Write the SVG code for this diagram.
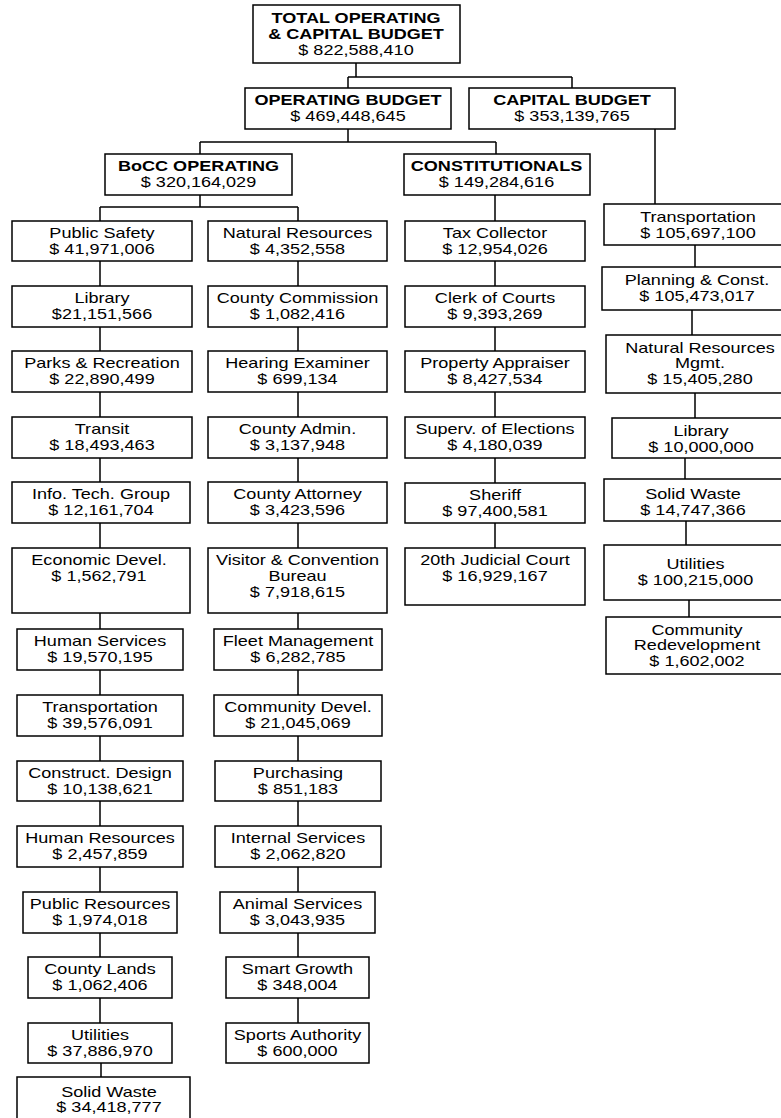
<svg xmlns="http://www.w3.org/2000/svg" width="781" height="1118" viewBox="0 0 781 1118">
<style>
rect{fill:#fff;stroke:#000;stroke-width:1.5}
text{font-family:"Liberation Sans",Arial,sans-serif;font-size:14px;fill:#000;text-anchor:middle}
.b{font-weight:bold}
#connectors path{fill:none;stroke:#000;stroke-width:1.5}
</style>
<g id="connectors">
<path d="M356 63V77M348 77H572M348 77V88M572 77V88"/>
<path d="M348 129V142M200 142H496M200 142V154M496 142V154"/>
<path d="M200 195V207M100 207H298M100 207V221M298 207V221"/>
<path d="M100 261V286M100 327V351M100 392V417M100 458V482M100 523V548M100 613V629M100 670V695M100 736V761M100 801V826M100 867V892M100 933V957M100 998V1023M101 1063V1077"/>
<path d="M298 261V286M298 327V351M298 392V417M298 458V482M298 523V548M298 613V629M298 670V695M298 736V761M298 801V826M298 867V892M298 933V957M298 998V1023"/>
<path d="M495 195V221M495 261V286M495 327V351M495 392V417M495 458V483M495 523V548"/>
<path d="M655 129V204M695 245V267M692 310V335M695 393V418M685 458V479M686 521V545M689 600V617"/>
</g>
<g id="total"><rect x="253" y="5" width="207" height="58"/><text transform="translate(356 23) scale(1.29 1)"><tspan x="0" class="b">TOTAL OPERATING</tspan><tspan x="0" dy="16" class="b">&amp; CAPITAL BUDGET</tspan><tspan x="0" dy="16">$ 822,588,410</tspan></text></g>
<g id="operating"><rect x="245" y="88" width="206" height="41"/><text transform="translate(348 105) scale(1.29 1)"><tspan x="0" class="b">OPERATING BUDGET</tspan><tspan x="0" dy="16">$ 469,448,645</tspan></text></g>
<g id="capital"><rect x="469" y="88" width="206" height="41"/><text transform="translate(572 105) scale(1.29 1)"><tspan x="0" class="b">CAPITAL BUDGET</tspan><tspan x="0" dy="16">$ 353,139,765</tspan></text></g>
<g id="bocc"><rect x="105" y="154" width="187" height="41"/><text transform="translate(198.5 171) scale(1.29 1)"><tspan x="0" class="b">BoCC OPERATING</tspan><tspan x="0" dy="16">$ 320,164,029</tspan></text></g>
<g id="constitutionals"><rect x="404" y="154" width="186" height="41"/><text transform="translate(496.5 171) scale(1.29 1)"><tspan x="0" class="b">CONSTITUTIONALS</tspan><tspan x="0" dy="16">$ 149,284,616</tspan></text></g>

<g id="public-safety"><rect x="12" y="221" width="180" height="40"/><text transform="translate(102 238) scale(1.29 1)"><tspan x="0">Public Safety</tspan><tspan x="0" dy="16">$ 41,971,006</tspan></text></g>
<g id="library"><rect x="12" y="286" width="180" height="41"/><text transform="translate(102 303) scale(1.29 1)"><tspan x="0">Library</tspan><tspan x="0" dy="16">$21,151,566</tspan></text></g>
<g id="parks"><rect x="12" y="351" width="180" height="41"/><text transform="translate(102 368) scale(1.29 1)"><tspan x="0">Parks &amp; Recreation</tspan><tspan x="0" dy="16">$ 22,890,499</tspan></text></g>
<g id="transit"><rect x="12" y="417" width="180" height="41"/><text transform="translate(102 434) scale(1.29 1)"><tspan x="0">Transit</tspan><tspan x="0" dy="16">$ 18,493,463</tspan></text></g>
<g id="info-tech"><rect x="12" y="482" width="178" height="41"/><text transform="translate(101 499) scale(1.29 1)"><tspan x="0">Info. Tech. Group</tspan><tspan x="0" dy="16">$ 12,161,704</tspan></text></g>
<g id="economic"><rect x="12" y="548" width="178" height="65"/><text transform="translate(99 565) scale(1.29 1)"><tspan x="0">Economic Devel.</tspan><tspan x="0" dy="16">$ 1,562,791</tspan></text></g>
<g id="human-services"><rect x="17" y="629" width="166" height="41"/><text transform="translate(100 646) scale(1.29 1)"><tspan x="0">Human Services</tspan><tspan x="0" dy="16">$ 19,570,195</tspan></text></g>
<g id="transportation"><rect x="17" y="695" width="166" height="41"/><text transform="translate(100 712) scale(1.29 1)"><tspan x="0">Transportation</tspan><tspan x="0" dy="16">$ 39,576,091</tspan></text></g>
<g id="construct"><rect x="17" y="761" width="166" height="40"/><text transform="translate(100 778) scale(1.29 1)"><tspan x="0">Construct. Design</tspan><tspan x="0" dy="16">$ 10,138,621</tspan></text></g>
<g id="human-resources"><rect x="17" y="826" width="166" height="41"/><text transform="translate(100 843) scale(1.29 1)"><tspan x="0">Human Resources</tspan><tspan x="0" dy="16">$ 2,457,859</tspan></text></g>
<g id="public-resources"><rect x="23" y="892" width="154" height="41"/><text transform="translate(100 909) scale(1.29 1)"><tspan x="0">Public Resources</tspan><tspan x="0" dy="16">$ 1,974,018</tspan></text></g>
<g id="county-lands"><rect x="28" y="957" width="144" height="41"/><text transform="translate(100 974) scale(1.29 1)"><tspan x="0">County Lands</tspan><tspan x="0" dy="16">$ 1,062,406</tspan></text></g>
<g id="utilities"><rect x="28" y="1023" width="144" height="40"/><text transform="translate(100 1040) scale(1.29 1)"><tspan x="0">Utilities</tspan><tspan x="0" dy="16">$ 37,886,970</tspan></text></g>
<g id="solid-waste"><rect x="17" y="1077" width="173" height="50"/><text transform="translate(109 1097) scale(1.29 1)"><tspan x="0">Solid Waste</tspan><tspan x="0" dy="15">$ 34,418,777</tspan></text></g>

<g id="natural-resources"><rect x="208" y="221" width="179" height="40"/><text transform="translate(297.5 238) scale(1.29 1)"><tspan x="0">Natural Resources</tspan><tspan x="0" dy="16">$ 4,352,558</tspan></text></g>
<g id="county-commission"><rect x="208" y="286" width="179" height="41"/><text transform="translate(297.5 303) scale(1.29 1)"><tspan x="0">County Commission</tspan><tspan x="0" dy="16">$ 1,082,416</tspan></text></g>
<g id="hearing-examiner"><rect x="208" y="351" width="179" height="41"/><text transform="translate(297.5 368) scale(1.29 1)"><tspan x="0">Hearing Examiner</tspan><tspan x="0" dy="16">$ 699,134</tspan></text></g>
<g id="county-admin"><rect x="208" y="417" width="179" height="41"/><text transform="translate(297.5 434) scale(1.29 1)"><tspan x="0">County Admin.</tspan><tspan x="0" dy="16">$ 3,137,948</tspan></text></g>
<g id="county-attorney"><rect x="208" y="482" width="179" height="41"/><text transform="translate(297.5 499) scale(1.29 1)"><tspan x="0">County Attorney</tspan><tspan x="0" dy="16">$ 3,423,596</tspan></text></g>
<g id="visitor"><rect x="208" y="548" width="179" height="65"/><text transform="translate(297.5 565) scale(1.29 1)"><tspan x="0">Visitor &amp; Convention</tspan><tspan x="0" dy="16">Bureau</tspan><tspan x="0" dy="16">$ 7,918,615</tspan></text></g>
<g id="fleet"><rect x="214" y="629" width="168" height="41"/><text transform="translate(298 646) scale(1.29 1)"><tspan x="0">Fleet Management</tspan><tspan x="0" dy="16">$ 6,282,785</tspan></text></g>
<g id="community-devel"><rect x="214" y="695" width="168" height="41"/><text transform="translate(298 712) scale(1.29 1)"><tspan x="0">Community Devel.</tspan><tspan x="0" dy="16">$ 21,045,069</tspan></text></g>
<g id="purchasing"><rect x="215" y="761" width="166" height="40"/><text transform="translate(298 778) scale(1.29 1)"><tspan x="0">Purchasing</tspan><tspan x="0" dy="16">$ 851,183</tspan></text></g>
<g id="internal-services"><rect x="215" y="826" width="166" height="41"/><text transform="translate(298 843) scale(1.29 1)"><tspan x="0">Internal Services</tspan><tspan x="0" dy="16">$ 2,062,820</tspan></text></g>
<g id="animal-services"><rect x="220" y="892" width="155" height="41"/><text transform="translate(297.5 909) scale(1.29 1)"><tspan x="0">Animal Services</tspan><tspan x="0" dy="16">$ 3,043,935</tspan></text></g>
<g id="smart-growth"><rect x="226" y="957" width="143" height="41"/><text transform="translate(297.5 974) scale(1.29 1)"><tspan x="0">Smart Growth</tspan><tspan x="0" dy="16">$ 348,004</tspan></text></g>
<g id="sports-authority"><rect x="226" y="1023" width="143" height="40"/><text transform="translate(297.5 1040) scale(1.29 1)"><tspan x="0">Sports Authority</tspan><tspan x="0" dy="16">$ 600,000</tspan></text></g>

<g id="tax-collector"><rect x="405" y="221" width="180" height="40"/><text transform="translate(495 238) scale(1.29 1)"><tspan x="0">Tax Collector</tspan><tspan x="0" dy="16">$ 12,954,026</tspan></text></g>
<g id="clerk"><rect x="405" y="286" width="180" height="41"/><text transform="translate(495 303) scale(1.29 1)"><tspan x="0">Clerk of Courts</tspan><tspan x="0" dy="16">$ 9,393,269</tspan></text></g>
<g id="property-appraiser"><rect x="405" y="351" width="180" height="41"/><text transform="translate(495 368) scale(1.29 1)"><tspan x="0">Property Appraiser</tspan><tspan x="0" dy="16">$ 8,427,534</tspan></text></g>
<g id="elections"><rect x="405" y="417" width="180" height="41"/><text transform="translate(495 434) scale(1.29 1)"><tspan x="0">Superv. of Elections</tspan><tspan x="0" dy="16">$ 4,180,039</tspan></text></g>
<g id="sheriff"><rect x="405" y="483" width="180" height="40"/><text transform="translate(495 500) scale(1.29 1)"><tspan x="0">Sheriff</tspan><tspan x="0" dy="16">$ 97,400,581</tspan></text></g>
<g id="judicial"><rect x="405" y="548" width="180" height="57"/><text transform="translate(495 565) scale(1.29 1)"><tspan x="0">20th Judicial Court</tspan><tspan x="0" dy="16">$ 16,929,167</tspan></text></g>

<g id="cap-transportation"><rect x="604" y="204" width="190" height="41"/><text transform="translate(698 222) scale(1.29 1)"><tspan x="0">Transportation</tspan><tspan x="0" dy="16">$ 105,697,100</tspan></text></g>
<g id="cap-planning"><rect x="602" y="267" width="190" height="43"/><text transform="translate(697 285) scale(1.29 1)"><tspan x="0">Planning &amp; Const.</tspan><tspan x="0" dy="16">$ 105,473,017</tspan></text></g>
<g id="cap-natural"><rect x="606" y="335" width="190" height="58"/><text transform="translate(700 353) scale(1.29 1)"><tspan x="0">Natural Resources</tspan><tspan x="0" dy="15.5">Mgmt.</tspan><tspan x="0" dy="15.5">$ 15,405,280</tspan></text></g>
<g id="cap-library"><rect x="612" y="418" width="190" height="40"/><text transform="translate(701 436) scale(1.29 1)"><tspan x="0">Library</tspan><tspan x="0" dy="16">$ 10,000,000</tspan></text></g>
<g id="cap-solid-waste"><rect x="604" y="479" width="190" height="42"/><text transform="translate(693 499) scale(1.29 1)"><tspan x="0">Solid Waste</tspan><tspan x="0" dy="16">$ 14,747,366</tspan></text></g>
<g id="cap-utilities"><rect x="604" y="545" width="190" height="55"/><text transform="translate(695.5 569) scale(1.29 1)"><tspan x="0">Utilities</tspan><tspan x="0" dy="16">$ 100,215,000</tspan></text></g>
<g id="cap-community"><rect x="606" y="617" width="190" height="57"/><text transform="translate(697 635) scale(1.29 1)"><tspan x="0">Community</tspan><tspan x="0" dy="15.5">Redevelopment</tspan><tspan x="0" dy="15.5">$ 1,602,002</tspan></text></g>
</svg>
